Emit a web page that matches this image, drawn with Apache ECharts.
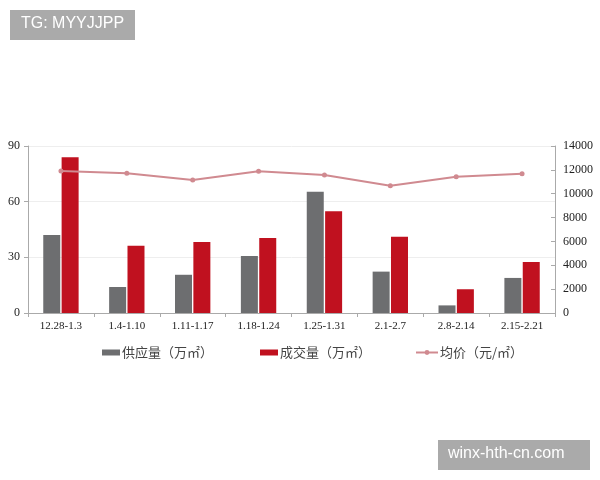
<!DOCTYPE html>
<html><head><meta charset="utf-8">
<script src="https://cdn.jsdelivr.net/npm/echarts@6/dist/echarts.min.js"></script>
<style>html,body{margin:0;padding:0;background:#fff}#c{width:600px;height:480px}</style>
</head><body><div id="c"></div>
<script>
var categories = ['12.28-1.3','1.4-1.10','1.11-1.17','1.18-1.24','1.25-1.31','2.1-2.7','2.8-2.14','2.15-2.21'];
var supply = [42, 14, 20.6, 30.7, 65.4, 22.3, 4.1, 18.9];
var deals = [84, 36.3, 38.3, 40.4, 54.8, 41.1, 12.8, 27.5];
var price = [11900, 11720, 11150, 11880, 11560, 10670, 11420, 11670];
var leftTicks = {min: 0, max: 90, interval: 30};
var rightTicks = {min: 0, max: 14000, interval: 2000};
var names = ['供应量（万㎡）', '成交量（万㎡）', '均价（元/㎡）'];

var chart = echarts.init(document.getElementById('c'));
var serif = '"Liberation Serif", "DejaVu Serif", serif';
var cjk = '"Noto Sans CJK SC", sans-serif';
var legendText = {fontFamily: cjk, fontSize: 13, color: '#444', padding: [0, 0, 0, -3]};
chart.setOption({
  animation: false,
  grid: {left: 28, right: 45, top: 146, bottom: 167},
  legend: [
    {data: [{name: names[0], icon: 'rect'}], left: 97, top: 341, itemWidth: 18, itemHeight: 6, textStyle: legendText},
    {data: [{name: names[1], icon: 'rect'}], left: 255, top: 341, itemWidth: 18, itemHeight: 6, textStyle: legendText},
    {data: [names[2]], left: 410, top: 341, itemWidth: 22, itemHeight: 6, textStyle: legendText}
  ],
  xAxis: {
    type: 'category', data: categories,
    axisLine: {lineStyle: {color: '#aaa'}},
    axisTick: {show: true, alignWithLabel: false, length: 4, lineStyle: {color: '#aaa'}},
    axisLabel: {fontFamily: serif, fontSize: 11, color: '#222', margin: 8, interval: 0}
  },
  yAxis: [
    {type: 'value', min: leftTicks.min, max: leftTicks.max, interval: leftTicks.interval,
     axisLine: {show: true, lineStyle: {color: '#aaa'}},
     axisTick: {show: true, length: 4, lineStyle: {color: '#aaa'}},
     splitLine: {lineStyle: {color: '#eee'}},
     axisLabel: {fontFamily: serif, fontSize: 12, color: '#222', margin: 8}},
    {type: 'value', min: rightTicks.min, max: rightTicks.max, interval: rightTicks.interval,
     axisLine: {show: true, lineStyle: {color: '#aaa'}},
     axisTick: {show: true, inside: true, length: 4, lineStyle: {color: '#aaa'}},
     splitLine: {show: false},
     axisLabel: {fontFamily: serif, fontSize: 12, color: '#222', margin: 8, formatter: function (v) { return String(v); }}}
  ],
  series: [
    {name: names[0], type: 'bar', data: supply, barWidth: 17, barGap: '8%', itemStyle: {color: '#6d6e70'}},
    {name: names[1], type: 'bar', data: deals, barWidth: 17, itemStyle: {color: '#c0111f'}},
    {name: names[2], type: 'line', yAxisIndex: 1, data: price, symbol: 'circle', symbolSize: 5,
     itemStyle: {color: '#d08a90'}, lineStyle: {color: '#d08a90', width: 2}}
  ],
  graphic: [
    {type: 'rect', left: 10, top: 10, shape: {width: 125, height: 30}, style: {fill: '#aaaaaa'}},
    {type: 'text', left: 21, top: 16, style: {text: 'TG: MYYJJPP', fill: '#fff', font: '16px "Liberation Sans", Arial, sans-serif'}},
    {type: 'rect', left: 438, top: 440, shape: {width: 152, height: 30}, style: {fill: '#aaaaaa'}},
    {type: 'text', left: 448, top: 446, style: {text: 'winx-hth-cn.com', fill: '#fff', font: '16px "Liberation Sans", Arial, sans-serif'}}
  ]
});
</script></body></html>
